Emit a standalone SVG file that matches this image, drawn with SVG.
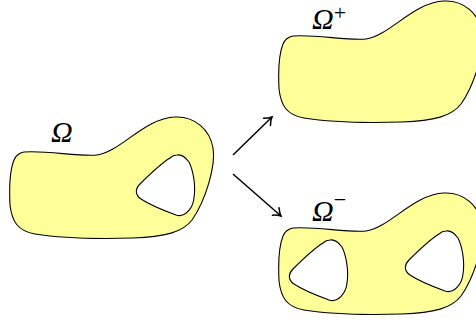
<svg xmlns="http://www.w3.org/2000/svg" width="476" height="323" viewBox="0 0 476 323">
  <defs>
    <style>
      .region { fill: #ffff99; stroke: #000; stroke-width: 1.1; fill-rule: evenodd; }
      .lbl { font-family: "Liberation Serif", "DejaVu Serif", serif; font-style: italic; font-size: 30px; fill: #000; }
      .sup { font-style: normal; font-size: 22px; }
      .conn { stroke: #000; stroke-width: 1.5; fill: none; }
    </style>
    <marker id="arr" markerUnits="userSpaceOnUse" markerWidth="16" markerHeight="16" refX="0" refY="0" viewBox="-10 -8 12 16" orient="auto" overflow="visible">
      <path d="M -7,-5 C -4,-2 -1.5,-0.6 0,0 C -1.5,0.6 -4,2 -7,5" fill="none" stroke="#000" stroke-width="1.5" stroke-linecap="round"/>
    </marker>
  </defs>

  <g id="omega">
    <path class="region" d="M 24,152 C 45,150 80,157 97,155 C 120,152 145,118 175,117 C 195,116 210,130 213,148 C 216,165 206,200 192,220 C 183,232 165,237 133,238 C 100,239 60,238 35,234 C 18,231 12,222 10,205 C 9,185 10,170 14,160 C 16,155 19,153 24,152 Z M 177,155 C 182,154 186,158 189,162 C 193,170 196,185 194,198 C 193,208 185,218 176,215 C 165,211 150,205 141,199 C 135,195 135,189 140,184 C 150,174 162,163 170,158 C 172,156 175,155 177,155 Z"/>
    <text class="lbl" x="51" y="142">Ω</text>
  </g>

  <g id="omega-plus">
    <path class="region" transform="translate(269,-116)" d="M 24,152 C 45,150 80,157 97,155 C 120,152 145,118 175,117 C 195,116 210,130 213,148 C 216,165 206,200 192,220 C 183,232 165,237 133,238 C 100,239 60,238 35,234 C 18,231 12,222 10,205 C 9,185 10,170 14,160 C 16,155 19,153 24,152 Z"/>
    <text class="lbl" x="312" y="29">Ω<tspan class="sup" dy="-9">+</tspan></text>
  </g>

  <g id="omega-minus">
    <path class="region" transform="translate(269,76)" d="M 24,152 C 45,150 80,157 97,155 C 120,152 145,118 175,117 C 195,116 210,130 213,148 C 216,165 206,200 192,220 C 183,232 165,237 133,238 C 100,239 60,238 35,234 C 18,231 12,222 10,205 C 9,185 10,170 14,160 C 16,155 19,153 24,152 Z M 177,155 C 182,154 186,158 189,162 C 193,170 196,185 194,198 C 193,208 185,218 176,215 C 165,211 150,205 141,199 C 135,195 135,189 140,184 C 150,174 162,163 170,158 C 172,156 175,155 177,155 Z M 61,164 C 66,163 70,167 73,171 C 77,179 80,194 78,207 C 77,217 69,227 60,224 C 49,220 34,214 25,208 C 19,204 19,198 24,193 C 34,183 46,172 54,167 C 56,165 59,164 61,164 Z"/>
    <text class="lbl" x="312" y="221">Ω<tspan class="sup" dy="-14">−</tspan></text>
  </g>

  <g id="connectors">
    <line class="conn" x1="233" y1="155" x2="272" y2="117" marker-end="url(#arr)"/>
    <line class="conn" x1="233" y1="174" x2="281" y2="216" marker-end="url(#arr)"/>
  </g>
</svg>
